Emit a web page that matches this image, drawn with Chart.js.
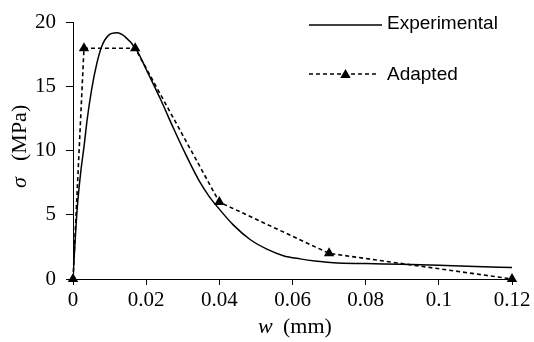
<!DOCTYPE html>
<html><head><meta charset="utf-8">
<script src="https://cdn.jsdelivr.net/npm/chart.js@4/dist/chart.umd.min.js"></script>
<style>html,body{margin:0;padding:0;background:#fff;}canvas{display:block}</style>
</head><body>
<canvas id="c" width="534" height="342"></canvas>
<script>
// ---- data ----
const expW = [0, 0.0005, 0.00115, 0.0021, 0.003, 0.0039, 0.0051, 0.0065, 0.0078, 0.0097, 0.012, 0.0142, 0.0174, 0.0201, 0.0238, 0.0274, 0.0311, 0.0347, 0.0372, 0.0397, 0.0438, 0.0484, 0.053, 0.0575, 0.0621, 0.0667, 0.0712, 0.08, 0.09, 0.1, 0.11, 0.12];
const expS = [0, 2.6, 5.5, 8.3, 10.3, 12.5, 14.8, 16.8, 18.1, 19.0, 19.2, 18.9, 17.85, 16.3, 14.1, 11.8, 9.55, 7.55, 6.45, 5.55, 4.22, 3.08, 2.33, 1.82, 1.57, 1.39, 1.26, 1.2, 1.15, 1.08, 0.98, 0.89];
const adW = [0, 0.003, 0.017, 0.04, 0.07, 0.12];
const adS = [0, 18, 18, 6, 2, 0];
const xTicks = [0, 0.02, 0.04, 0.06, 0.08, 0.1, 0.12];
const yTicks = [0, 5, 10, 15, 20];
const seriesNames = ['Experimental', 'Adapted'];

const SERIF = '"Liberation Serif", "Times New Roman", serif';
const SANS = '"Liberation Sans", Arial, sans-serif';

const titlesAndLegend = {
  id: 'titlesAndLegend',
  afterDraw(chart) {
    const ctx = chart.ctx;
    ctx.save();
    ctx.fillStyle = '#000';
    // x title: italic w + (mm)
    ctx.textBaseline = 'middle';
    ctx.textAlign = 'left';
    ctx.font = 'italic 22px ' + SERIF;
    ctx.fillText('w', 258, 327);
    ctx.font = '22px ' + SERIF;
    ctx.fillText('(mm)', 283, 327);
    // y title rotated
    ctx.save();
    ctx.translate(20, 188);
    ctx.rotate(-Math.PI / 2);
    ctx.font = 'italic 22px ' + SERIF;
    ctx.fillText('\u03C3', 0, 0);
    ctx.font = '22px ' + SERIF;
    ctx.fillText('(MPa)', 27, 0);
    ctx.restore();

    // legend
    const ds0 = chart.data.datasets[0], ds1 = chart.data.datasets[1];
    ctx.strokeStyle = ds0.borderColor;
    ctx.lineWidth = ds0.borderWidth;
    ctx.setLineDash([]);
    ctx.beginPath(); ctx.moveTo(309, 25); ctx.lineTo(382, 25); ctx.stroke();
    ctx.font = '19px ' + SANS;
    ctx.textBaseline = 'alphabetic';
    ctx.fillText(ds0.label, 387, 29);

    ctx.strokeStyle = ds1.borderColor;
    ctx.lineWidth = ds1.borderWidth;
    ctx.setLineDash(ds1.borderDash);
    ctx.beginPath(); ctx.moveTo(309, 74); ctx.lineTo(378, 74); ctx.stroke();
    ctx.setLineDash([]);
    const r = ds1.pointRadius, cx = 345.5, cy = 75;
    ctx.beginPath();
    ctx.moveTo(cx, cy - r);
    ctx.lineTo(cx + r * Math.sin(Math.PI / 3), cy + r / 2);
    ctx.lineTo(cx - r * Math.sin(Math.PI / 3), cy + r / 2);
    ctx.closePath();
    ctx.fill();
    ctx.fillText(ds1.label, 387, 80);
    ctx.restore();
  }
};

new Chart(document.getElementById('c'), {
  type: 'scatter',
  data: {
    datasets: [
      {
        label: seriesNames[0],
        data: expW.map((w, i) => ({ x: w, y: expS[i] })),
        showLine: true,
        borderColor: '#000',
        borderWidth: 1.5,
        pointRadius: 0,
        cubicInterpolationMode: 'monotone',
        fill: false
      },
      {
        label: seriesNames[1],
        data: adW.map((w, i) => ({ x: w, y: adS[i] })),
        showLine: true,
        clip: false,
        borderColor: '#000',
        borderWidth: 1.6,
        borderDash: [4, 3],
        tension: 0,
        pointStyle: 'triangle',
        pointRadius: 6,
        pointBackgroundColor: '#000',
        pointBorderColor: '#000',
        pointBorderWidth: 0,
        fill: false
      }
    ]
  },
  options: {
    responsive: false,
    animation: false,
    devicePixelRatio: 1,
    layout: { padding: { top: 15, right: 22, bottom: 0, left: 0 } },
    plugins: { legend: { display: false }, tooltip: { enabled: false } },
    scales: {
      x: {
        type: 'linear',
        min: 0, max: 0.12,
        afterBuildTicks: s => { s.ticks = xTicks.map(v => ({ value: v })); },
        afterFit: s => { s.height = 63; },
        grid: { drawOnChartArea: false, drawTicks: true, tickLength: 6, color: '#000' },
        border: { display: true, color: '#000', width: 1 },
        ticks: {
          color: '#000', padding: 3, maxRotation: 0,
          font: { family: SERIF, size: 21 },
          callback: v => String(+v.toFixed(2))
        }
      },
      y: {
        type: 'linear',
        min: 0, max: 20,
        afterBuildTicks: s => { s.ticks = yTicks.map(v => ({ value: v })); },
        afterFit: s => { s.width = 73; },
        grid: { drawOnChartArea: false, drawTicks: true, tickLength: 7, color: '#000' },
        border: { display: true, color: '#000', width: 1 },
        ticks: {
          color: '#000', padding: 10,
          font: { family: SERIF, size: 21 },
          callback: v => String(v)
        }
      }
    }
  },
  plugins: [titlesAndLegend]
});
</script>
</body></html>
